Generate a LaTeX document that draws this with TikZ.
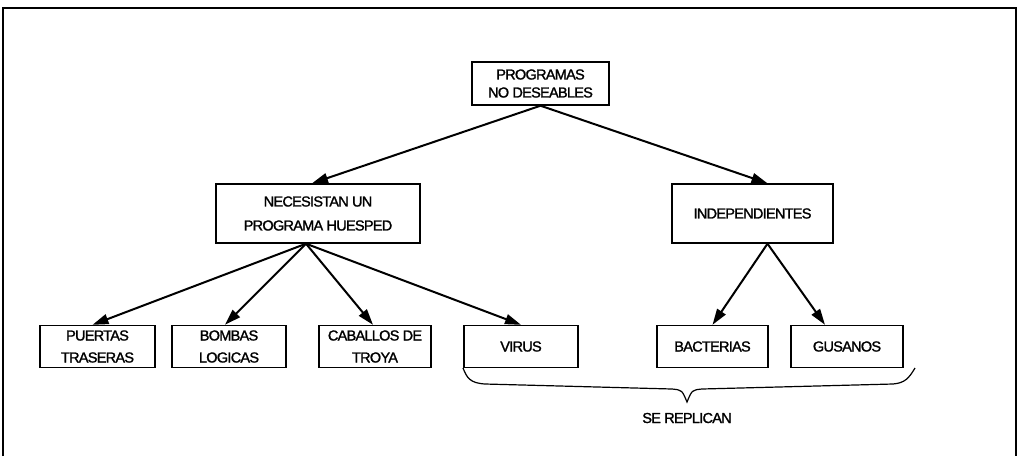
\documentclass[tikz,border=0pt]{standalone}
\usepackage{fontspec}
\setmainfont{Liberation Sans}[FakeBold=1.5, LetterSpace=-5]
\usetikzlibrary{arrows.meta,calc}
\tikzset{
  box/.style={draw, line width=1.4pt, align=center, inner sep=0pt,
    font=\fontsize{14.5}{22}\selectfont},
  arr/.style={line width=2pt, -{Triangle[length=16pt,width=10pt]}},
}
\begin{document}
\begin{tikzpicture}[x=1pt,y=-1pt]
\useasboundingbox (0,0) rectangle (1019,456);
% outer frame
\draw[line width=1.3pt] (3,456) -- (3,8) -- (1016,8) -- (1016,456);

\node[box, minimum width=137pt, minimum height=43pt, font=\fontsize{14.5}{18}\selectfont] (top) at (540.5,83.5) {PROGRAMAS\\NO DESEABLES};
\node[box, minimum width=204pt, minimum height=59pt, font=\fontsize{14.5}{24}\selectfont] (nec) at (318,213.5) {NECESISTAN UN\\PROGRAMA HUESPED};
\node[box, minimum width=161pt, minimum height=59pt] (ind) at (752.5,213.5) {INDEPENDIENTES};

\node[box, minimum width=115pt, minimum height=42pt] (pue) at (97.5,346.5) {PUERTAS\\TRASERAS};
\node[box, minimum width=114pt, minimum height=42pt] (bom) at (229,346.5) {BOMBAS\\LOGICAS};
\node[box, minimum width=112pt, minimum height=42pt] (cab) at (375,346.5) {CABALLOS DE\\TROYA};
\node[box, minimum width=114pt, minimum height=42pt] (vir) at (521,346.5) {VIRUS};
\node[box, minimum width=111pt, minimum height=42pt] (bac) at (712.5,346.5) {BACTERIAS};
\node[box, minimum width=112pt, minimum height=42pt] (gus) at (847,346.5) {GUSANOS};

% connectors
\draw[arr] (top.south) -- ([xshift=-6pt]nec.north);
\draw[arr] (top.south) -- ([xshift=15pt]ind.north);
\draw[arr] ([xshift=-12pt]nec.south) -- ([xshift=-5pt]pue.north);
\draw[arr] ([xshift=-12pt]nec.south) -- ([xshift=-4pt]bom.north);
\draw[arr] ([xshift=-12pt]nec.south) -- ([xshift=-2pt]cab.north);
\draw[arr] ([xshift=-12pt]nec.south) -- ([xshift=0pt]vir.north);
\draw[arr] ([xshift=15pt]ind.south) -- ([xshift=0pt]bac.north);
\draw[arr] ([xshift=15pt]ind.south) -- ([xshift=-22pt]gus.north);

% brace under the self-replicating programs
\coordinate (bl) at (463,368);
\coordinate (br) at (915,368);
\coordinate (tip) at (687,402);
\draw[line width=1.2pt] (bl) .. controls (467,378) and (470,383) .. (485,384)
  -- (672,389) .. controls (682,390) .. (tip)
  .. controls (692,390) .. (702,389) -- (893,384)
  .. controls (905,383) and (909,378) .. (br);
\node[font=\fontsize{14.5}{16}\selectfont] (rep) at (687,418) {SE REPLICAN};
\end{tikzpicture}
\end{document}
